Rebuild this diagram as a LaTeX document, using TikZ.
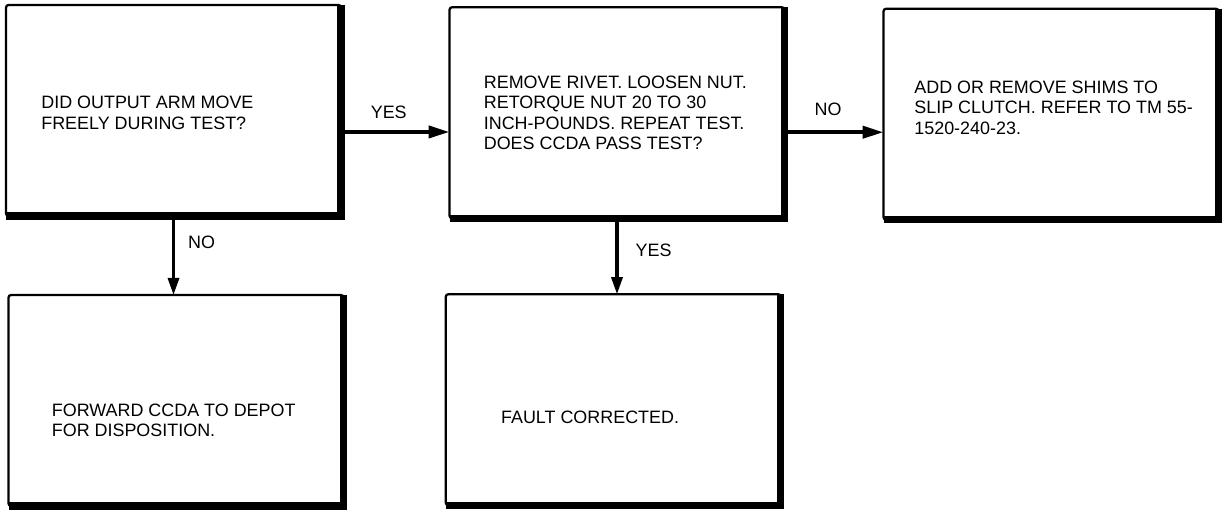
\documentclass[tikz,border=0pt]{standalone}
\usepackage{fontspec}
\setmainfont{Liberation Sans}
\usetikzlibrary{positioning, arrows.meta, calc}

\begin{document}
\begin{tikzpicture}[
  box/.style={draw, line width=1.3pt, rounded corners=1.5pt, outer sep=0pt,
              minimum width=6.7cm, minimum height=4.22cm},
  heavy/.style={line width=4pt, line join=miter},
  txt/.style={font=\fontsize{10.2}{11.6}\selectfont, align=left, inner sep=0pt, anchor=west},
  lbl/.style={font=\fontsize{10.2}{11.6}\selectfont, inner sep=0pt},
  harr/.style={-{Triangle[length=4.2mm, width=2.4mm]}, line width=2.3pt},
  varr/.style={-{Triangle[length=3.4mm, width=2.2mm]}, line width=1.8pt}]
  \useasboundingbox (0,0) rectangle (24.46,10.2);
  % top row
  \node[box] (q1) at (3.47,7.99) {};
  \node[box] (act) at (12.34,7.945) {};
  \node[box] (shim) at (21.02,7.915) {};
  % bottom row
  \node[box] (dep) at (3.52,2.19) {};
  \node[box] (done) at (12.265,2.205) {};
  \foreach \b in {q1,act,shim,dep,done}
    \draw[heavy] (\b.north east) -- (\b.south east) -- (\b.south west);
  % texts
  \node[txt] (q1t) at ($(q1.west)+(0.70,-0.05)$) {DID OUTPUT ARM MOVE\\FREELY DURING TEST?};
  \node[txt] (actt) at ($(act.west)+(0.68,0)$) {REMOVE RIVET. LOOSEN NUT.\\RETORQUE NUT 20 TO 30\\INCH-POUNDS. REPEAT TEST.\\DOES CCDA PASS TEST?};
  \node[txt] (shimt) at ($(shim.west)+(0.61,0.13)$) {ADD OR REMOVE SHIMS TO\\SLIP CLUTCH. REFER TO TM 55-\\1520-240-23.};
  \node[txt] (dept) at ($(dep.west)+(0.86,-0.40)$) {FORWARD CCDA TO DEPOT\\FOR DISPOSITION.};
  \node[txt] (donet) at ($(done.west)+(1.10,-0.345)$) {FAULT CORRECTED.};
  % connectors
  \coordinate (y1) at ($(q1.east)+(0,-0.43)$);
  \coordinate (n1) at ($(act.east)+(0,-0.39)$);
  \draw[harr] (y1) -- node[lbl, above=6.5pt, pos=.44] (yes1) {YES} (y1 -| act.west);
  \draw[harr] (n1) -- node[lbl, above=8pt, pos=.44] (no1) {NO} (n1 -| shim.west);
  \draw[varr] (q1.south) -- node[lbl, right=7.4pt, pos=.33] (no2) {NO} (q1.south |- dep.north);
  \draw[varr] (act.south) -- node[lbl, right=9.7pt, pos=.42] (yes2) {YES} (act.south |- done.north);
\end{tikzpicture}
\end{document}
